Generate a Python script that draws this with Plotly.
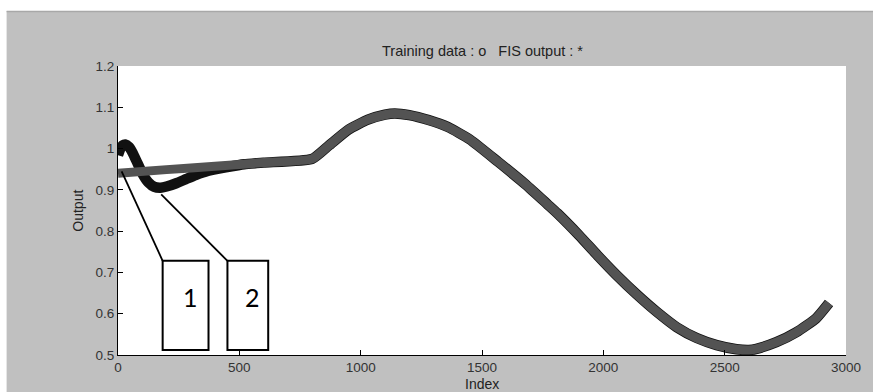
import plotly.graph_objects as go

# FIS output
fis_x = [0, 200, 400, 600, 800, 870, 950, 1030, 1100, 1140, 1200, 1280, 1360, 1450, 1566,
         1680, 1770, 1811, 1900, 1975, 2057, 2139, 2221, 2303, 2385, 2467, 2549, 2600, 2631,
         2713, 2795, 2877, 2930]
fis_y = [0.940, 0.949, 0.957, 0.966, 0.975, 1.008, 1.046, 1.070, 1.082, 1.085, 1.081, 1.069,
         1.052, 1.022, 0.968, 0.913, 0.865, 0.843, 0.790, 0.742, 0.692, 0.646, 0.604, 0.567,
         0.541, 0.524, 0.514, 0.512, 0.515, 0.531, 0.555, 0.589, 0.626]

# Training data: initial oscillation, then it follows the FIS output
train_head_x = [0, 10, 20, 30, 45, 60, 80, 100, 125, 150, 175, 200, 240, 280, 320, 370, 450, 520]
train_head_y = [0.984, 1.000, 1.008, 1.010, 1.004, 0.990, 0.965, 0.940, 0.918, 0.907, 0.905,
                0.908, 0.916, 0.926, 0.936, 0.946, 0.955, 0.962]
train_x = train_head_x + fis_x[3:]
train_y = train_head_y + fis_y[3:]

x_ticks = [0, 500, 1000, 1500, 2000, 2500, 3000]
y_ticks = [0.5, 0.6, 0.7, 0.8, 0.9, 1.0, 1.1, 1.2]
y_labels = ["0.5", "0.6", "0.7", "0.8", "0.9", "1", "1.1", "1.2"]

fig = go.Figure()
fig.add_trace(go.Scatter(x=train_x, y=train_y, mode="lines",
                         line=dict(color="#111111", width=10.5, shape="spline", smoothing=0.5),
                         showlegend=False, hoverinfo="skip"))
fig.add_trace(go.Scatter(x=fis_x, y=fis_y, mode="lines",
                         line=dict(color="#535353", width=9, shape="spline", smoothing=0.5),
                         showlegend=False, hoverinfo="skip"))

L, R, T, B = 118, 23, 66, 37
W, H = 873, 392
pw, ph = W - L - R, H - T - B

def px(xp):
    return (xp - L) / pw

def py(yp):
    return (H - B - yp) / ph

FONT = "Liberation Sans, Arial, sans-serif"

shapes = [
    dict(type="rect", xref="paper", yref="paper", x0=px(-5), x1=px(W + 5), y0=py(11), y1=py(-5),
         fillcolor="white", line_width=0, layer="above"),
    dict(type="rect", xref="paper", yref="paper", x0=px(-5), x1=px(6), y0=py(H + 5), y1=py(-5),
         fillcolor="white", line_width=0, layer="above"),
    dict(type="line", xref="paper", yref="paper", x0=px(6), x1=px(W + 5), y0=py(11.5), y1=py(11.5),
         line=dict(color="#a8a8a8", width=1.5), layer="above"),
    dict(type="rect", xref="x", yref="y", x0=184, x1=373, y0=0.512, y1=0.728,
         line=dict(color="black", width=2), fillcolor="white"),
    dict(type="rect", xref="x", yref="y", x0=451, x1=619, y0=0.512, y1=0.728,
         line=dict(color="black", width=2), fillcolor="white"),
    dict(type="line", xref="x", yref="y", x0=15, y0=0.945, x1=184, y1=0.728,
         line=dict(color="black", width=1.8)),
    dict(type="line", xref="x", yref="y", x0=178, y0=0.889, x1=451, y1=0.728,
         line=dict(color="black", width=1.8)),
]

annotations = [
    dict(text="1", x=(184 + 373) / 2 + 20, y=0.64, xref="x", yref="y", showarrow=False,
         xanchor="center", yanchor="middle",
         font=dict(family="Lato, Noto Sans, sans-serif", size=25, color="black")),
    dict(text="2", x=(451 + 619) / 2 + 18, y=0.64, xref="x", yref="y", showarrow=False,
         xanchor="center", yanchor="middle",
         font=dict(family="Lato, Noto Sans, sans-serif", size=25, color="black")),
    dict(text="Output", x=px(77), y=0.5, xref="paper", yref="paper", textangle=-90,
         xanchor="center", yanchor="middle",
         showarrow=False, font=dict(family=FONT, size=14, color="#222")),
    dict(text="Index", x=0.5, y=py(384), xref="paper", yref="paper",
         xanchor="center", yanchor="middle",
         showarrow=False, font=dict(family=FONT, size=14, color="#222")),
    dict(text="Training data : o &nbsp; FIS output : *", x=0.5, y=py(51), xref="paper", yref="paper",
         xanchor="center", yanchor="middle",
         showarrow=False, font=dict(family=FONT, size=14.5, color="#222")),
]

fig.update_layout(
    width=W, height=H,
    margin=dict(l=L, r=R, t=T, b=B, pad=0),
    paper_bgcolor="#c0c0c0", plot_bgcolor="white",
    shapes=shapes, annotations=annotations,
    xaxis=dict(range=[0, 3000], tickvals=x_ticks, ticks="inside", ticklen=5, tickcolor="black",
               showline=True, linecolor="black", linewidth=1, showgrid=False, zeroline=False,
               tickfont=dict(family=FONT, size=13.5, color="#333")),
    yaxis=dict(range=[0.5, 1.2], tickvals=y_ticks, ticktext=y_labels, ticks="inside", ticklen=5,
               tickcolor="black", showline=True, linecolor="black", linewidth=1, showgrid=False,
               zeroline=False,
               tickfont=dict(family=FONT, size=13.5, color="#333")),
)

fig.write_html("out.html")
